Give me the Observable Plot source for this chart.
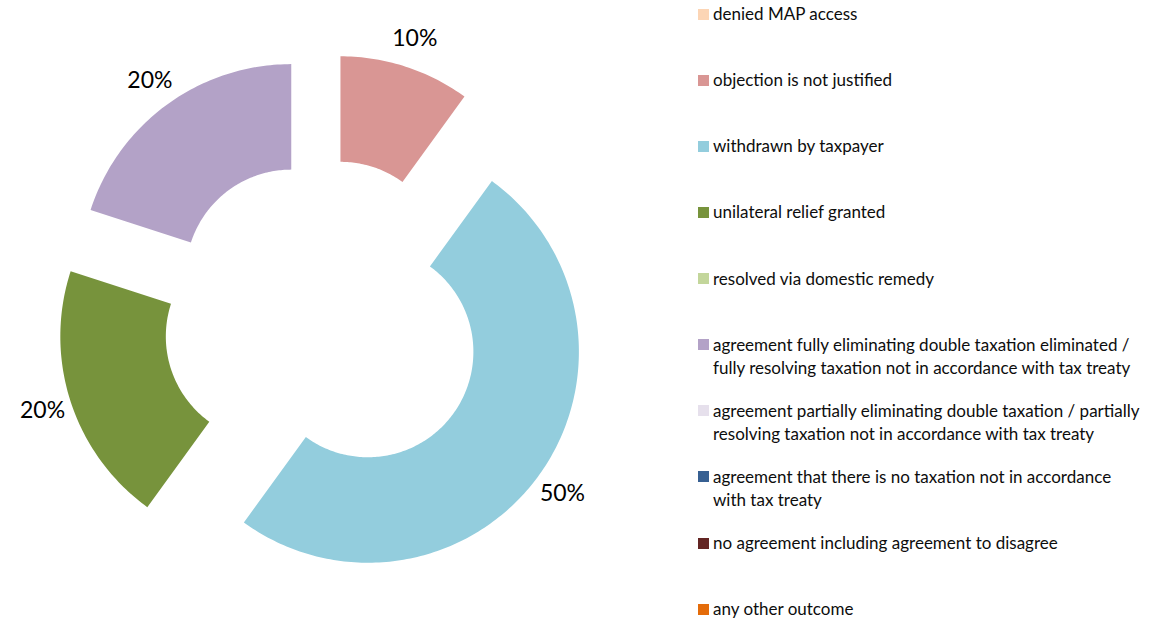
<!DOCTYPE html>
<html>
<head>
<meta charset="utf-8">
<script src="https://cdn.jsdelivr.net/npm/d3@7"></script>
<script src="https://cdn.jsdelivr.net/npm/@observablehq/plot@0.6"></script>
<style>
  html, body { margin: 0; padding: 0; background: #fff; }
  body { width: 1156px; height: 621px; position: relative; overflow: hidden; font-family: Lato, "Liberation Sans", sans-serif; }
  #chart { position: absolute; left: 0; top: 0; }
  #legend { position: absolute; left: 698px; top: 2px; }
  .item { display: flex; align-items: flex-start; height: 66.15px; }
  .sw { width: 11px; height: 11px; margin-top: 6.5px; margin-right: 4px; flex: none; }
  .lab { font-size: 17px; line-height: 23px; color: #0d0d0d; white-space: pre; }
</style>
</head>
<body>
<div id="chart"></div>
<div id="legend"></div>
<script>
// ---- data ----
const categories = [
  "denied MAP access",
  "objection is not justified",
  "withdrawn by taxpayer",
  "unilateral relief granted",
  "resolved via domestic remedy",
  "agreement fully eliminating double taxation eliminated /\nfully resolving taxation not in accordance with tax treaty",
  "agreement partially eliminating double taxation / partially\nresolving taxation not in accordance with tax treaty",
  "agreement that there is no taxation not in accordance\nwith tax treaty",
  "no agreement including agreement to disagree",
  "any other outcome"
];
const shares = [0, 0.10, 0.50, 0.20, 0, 0.20, 0, 0, 0, 0];
const colors = ["#FCD5B5", "#D99694", "#93CDDD", "#77933C", "#C3D69B", "#B3A2C7", "#E6E0EC", "#376092", "#632523", "#E46C0A"];

// ---- geometry (in units of the outer radius) ----
const innerRatio = 0.5;
const explode = 0.26;
const labelRadius = 1.14;

const rows = categories.map((c, i) => ({cat: c, share: shares[i]}));
const arcs = d3.pie().sort(null).value(d => d.share).startAngle(0).endAngle(2 * Math.PI)(rows);

const pts = [];
const labels = [];
for (const a of arcs) {
  if (a.data.share <= 0) continue;
  const mid = (a.startAngle + a.endAngle) / 2;
  const ox = explode * Math.sin(mid), oy = explode * Math.cos(mid);
  const n = Math.max(8, Math.ceil((a.endAngle - a.startAngle) * 60));
  for (let k = 0; k <= n; k++) {
    const t = a.startAngle + (a.endAngle - a.startAngle) * k / n;
    pts.push({cat: a.data.cat, x: ox + Math.sin(t), y: oy + Math.cos(t)});
  }
  for (let k = n; k >= 0; k--) {
    const t = a.startAngle + (a.endAngle - a.startAngle) * k / n;
    pts.push({cat: a.data.cat, x: ox + innerRatio * Math.sin(t), y: oy + innerRatio * Math.cos(t)});
  }
  labels.push({
    x: ox + labelRadius * Math.sin(mid),
    y: oy + labelRadius * Math.cos(mid),
    text: d3.format(".0%")(a.data.share)
  });
}

const W = 690, H = 621, R = 211, cx = 323, cy = 319;
const chart = Plot.plot({
  width: W,
  height: H,
  margin: 0,
  x: {domain: [-cx / R, (W - cx) / R], axis: null},
  y: {domain: [-(H - cy) / R, cy / R], axis: null},
  color: {domain: categories, range: colors},
  style: {background: "white", fontFamily: "Lato, 'Liberation Sans', sans-serif"},
  marks: [
    Plot.line(pts, {x: "x", y: "y", z: "cat", fill: "cat", stroke: "none", curve: "linear-closed"}),
    Plot.text(labels, {x: "x", y: "y", text: "text", fontSize: 23, fill: "#000"})
  ]
});
document.getElementById("chart").appendChild(chart);

const legend = document.getElementById("legend");
categories.forEach((c, i) => {
  const it = document.createElement("div");
  it.className = "item";
  const sw = document.createElement("div");
  sw.className = "sw";
  sw.style.background = colors[i];
  const lb = document.createElement("div");
  lb.className = "lab";
  lb.textContent = c;
  it.appendChild(sw);
  it.appendChild(lb);
  legend.appendChild(it);
});
</script>
</body>
</html>
